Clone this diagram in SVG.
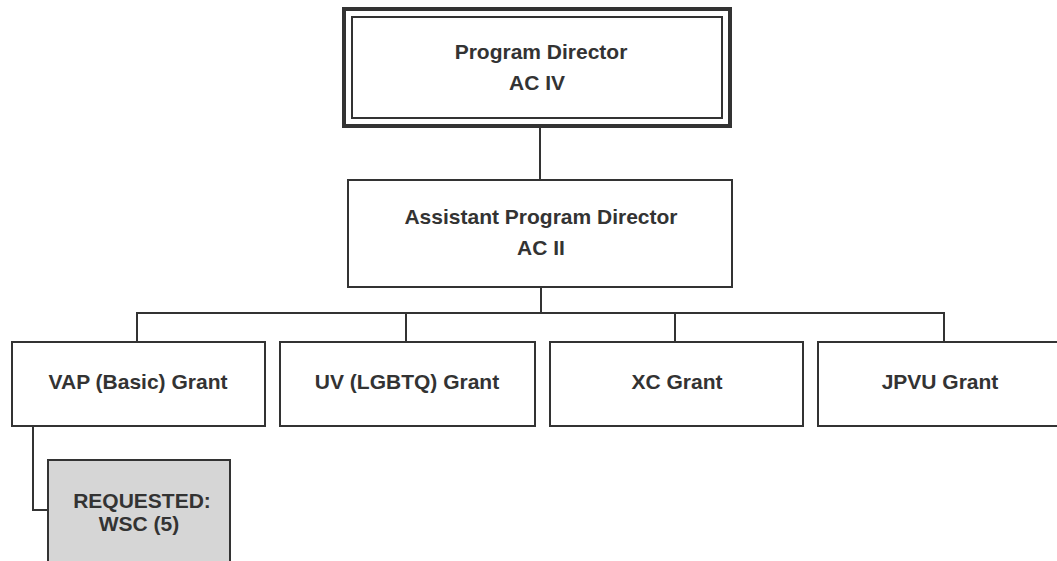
<svg xmlns="http://www.w3.org/2000/svg" width="1057" height="561" viewBox="0 0 1057 561">
<style>
.box{fill:#ffffff;stroke:#333333;stroke-width:2}
.t{font-family:"Liberation Sans",Arial,sans-serif;font-weight:bold;font-size:21px;fill:#333333;text-anchor:middle}
.c{fill:none;stroke:#333333;stroke-width:2}
</style>
<rect width="1057" height="561" fill="#ffffff"/>
<g id="connectors">
<line class="c" x1="540" y1="126" x2="540" y2="180"/>
<line class="c" x1="541" y1="287" x2="541" y2="313"/>
<polyline class="c" points="137,342 137,313 944,313 944,342"/>
<line class="c" x1="406" y1="313" x2="406" y2="342"/>
<line class="c" x1="675" y1="313" x2="675" y2="342"/>
<polyline class="c" points="33,426 33,510 48,510"/>
</g>
<g id="program-director">
<rect x="344" y="9" width="386" height="117" fill="#ffffff" stroke="#333333" stroke-width="4"/>
<rect x="352" y="17" width="370" height="101" fill="none" stroke="#333333" stroke-width="2"/>
<text class="t" x="541" y="59">Program Director</text>
<text class="t" x="537" y="90">AC IV</text>
</g>
<g id="assistant-program-director">
<rect class="box" x="348" y="180" width="384" height="107"/>
<text class="t" x="541" y="224">Assistant Program Director</text>
<text class="t" x="541" y="255">AC II</text>
</g>
<g id="vap-grant">
<rect class="box" x="12" y="342" width="253" height="84"/>
<text class="t" x="138" y="389">VAP (Basic) Grant</text>
</g>
<g id="uv-grant">
<rect class="box" x="280" y="342" width="255" height="84"/>
<text class="t" x="407" y="389">UV (LGBTQ) Grant</text>
</g>
<g id="xc-grant">
<rect class="box" x="550" y="342" width="253" height="84"/>
<text class="t" x="677" y="389">XC Grant</text>
</g>
<g id="jpvu-grant">
<rect class="box" x="818" y="342" width="244" height="84"/>
<text class="t" x="940" y="389">JPVU Grant</text>
</g>
<g id="requested">
<rect x="48" y="460" width="182" height="110" fill="#d6d6d6" stroke="#333333" stroke-width="2"/>
<text class="t" x="142" y="508">REQUESTED:</text>
<text class="t" x="139" y="531">WSC (5)</text>
</g>
</svg>
